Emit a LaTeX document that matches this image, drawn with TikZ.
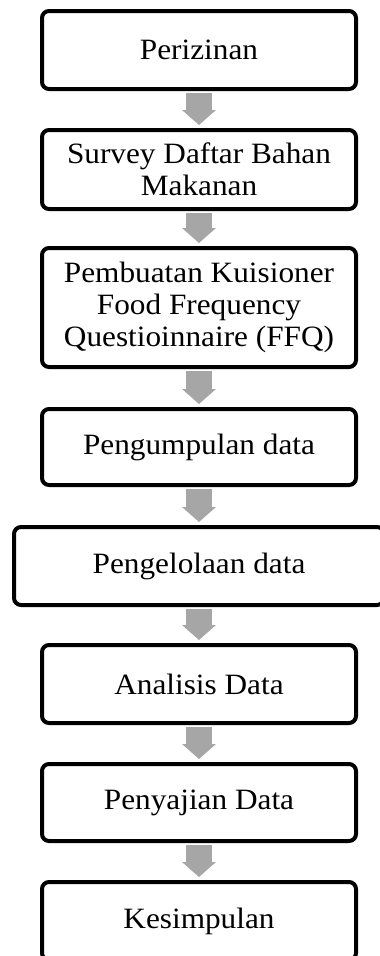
\documentclass[tikz,border=0pt]{standalone}
\usepackage{fontspec}
\setmainfont{Liberation Serif}[FakeStretch=1.06]
\usetikzlibrary{arrows.meta}
\definecolor{arrowgray}{HTML}{A6A6A6}

\begin{document}
\begin{tikzpicture}[x=1pt,y=-1pt,
    stepbox/.style={draw,line width=4pt,rounded corners=7pt,inner sep=0pt,outer sep=0pt,
      minimum width=314pt,minimum height=78pt,align=center,
      font=\fontsize{29.5}{32}\selectfont},
    flow/.style={draw=arrowgray,line width=26pt,
      -{Triangle[width=34pt,length=15pt,line width=0pt]}}]
    \useasboundingbox (0,0) rectangle (380,956);
    \clip (0,0) rectangle (380,956);
    \node[stepbox] (izin) at (199,50) {Perizinan};
    \node[stepbox,minimum height=79pt] (survey) at (199,169.5) {Survey Daftar Bahan\\Makanan};
    \node[stepbox,minimum height=119pt] (ffq) at (199,307.5) {Pembuatan Kuisioner\\Food Frequency\\Questioinnaire (FFQ)};
    \node[stepbox,minimum height=76pt] (kumpul) at (199,447) {Pengumpulan data};
    \node[stepbox,minimum width=370pt] (kelola) at (199,566) {Pengelolaan data};
    \node[stepbox] (analisis) at (199,684) {Analisis Data};
    \node[stepbox,minimum height=77pt] (saji) at (199,802.5) {Penyajian Data};
    \node[stepbox] (simpul) at (199,921) {Kesimpulan};
    \foreach \a/\b in {izin/survey,survey/ffq,ffq/kumpul,kumpul/kelola,
                       kelola/analisis,analisis/saji,saji/simpul}
      \draw[flow] ([yshift=-4pt]\a.south) -- ([yshift=5pt]\b.north);
\end{tikzpicture}
\end{document}
